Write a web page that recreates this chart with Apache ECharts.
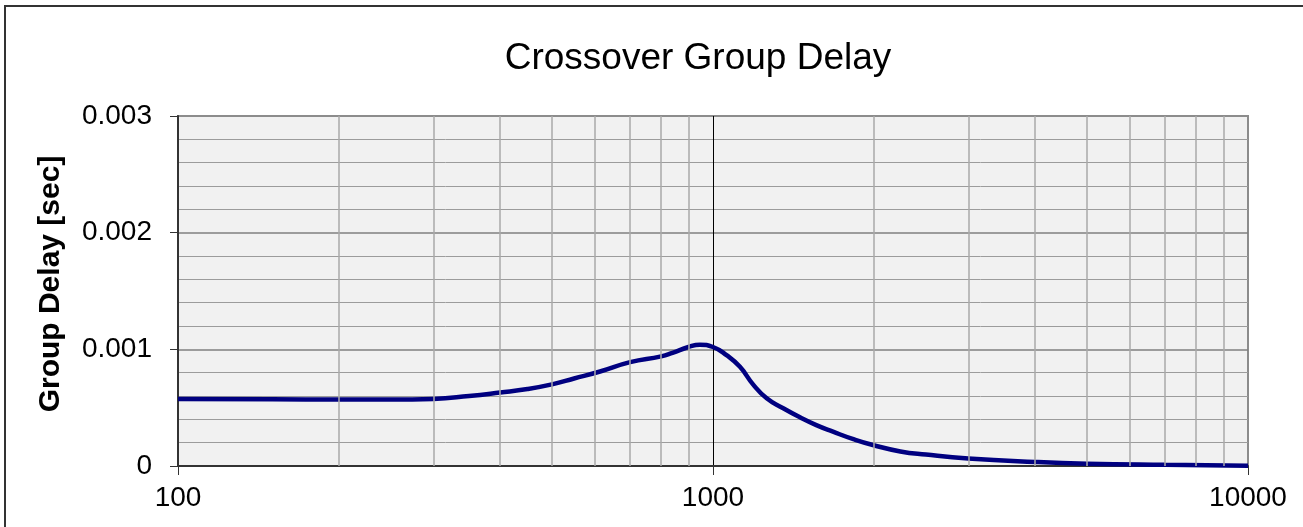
<!DOCTYPE html>
<html>
<head>
<meta charset="utf-8">
<title>Crossover Group Delay</title>
<script src="https://cdn.jsdelivr.net/npm/echarts@6/dist/echarts.min.js"></script>
<style>
  html, body { margin: 0; padding: 0; background: #fff; }
  #chart { width: 1303px; height: 527px; }
</style>
</head>
<body>
<div id="chart"></div>
<script>
  // frequency [Hz] and group delay [sec]
  var freq = [100, 150, 200, 250, 300, 350, 400, 450, 500, 550, 615, 700, 800, 840, 900, 945, 1000,
    1060, 1123, 1188, 1260, 1350, 1454, 1560, 1676, 1830, 1990, 2240, 2500, 3000, 4000, 5000, 7000, 10000]
  var delay = [0.000575, 0.000572, 0.00057, 0.00057, 0.000575, 0.0006, 0.00063, 0.00066, 0.0007, 0.00075,
    0.00081, 0.00089, 0.00094, 0.00097, 0.00102, 0.00104, 0.00102,
    0.00095, 0.00085, 0.00070, 0.00058, 0.000497, 0.000417, 0.00035, 0.000294, 0.00023, 0.00018,
    0.000125, 0.000098, 0.000065, 0.000035, 0.00002, 0.00001, 0.000003]
  // minor vertical grid lines on the log axis
  var minorFreq = [200, 300, 400, 500, 600, 700, 800, 900, 2000, 3000, 4000, 5000, 6000, 7000, 8000, 9000]
  var yTicks = [0, 0.001, 0.002, 0.003]

  var font = 'Arial, "Liberation Sans", sans-serif'

  var points = []
  for (var i = 0; i < freq.length; i++) {
    points.push([freq[i], delay[i]])
  }
  var gridLines = []
  for (var j = 0; j < minorFreq.length; j++) {
    gridLines.push({xAxis: minorFreq[j]})
  }

  var myChart = echarts.init(document.getElementById('chart'))
  var option = {
    animation: false,
    backgroundColor: '#fff',
    title: {
      text: 'Crossover Group Delay',
      left: 693,
      top: 35,
      textAlign: 'center',
      textStyle: {fontFamily: font, fontSize: 37, fontWeight: 'normal', color: '#000'}
    },
    graphic: [{
      type: 'rect',
      silent: true,
      shape: {x: 5, y: 6, width: 1400, height: 600},
      style: {fill: 'none', stroke: '#333', lineWidth: 2}
    }],
    grid: {
      left: 178,
      top: 116,
      width: 1070,
      height: 350,
      show: true,
      backgroundColor: '#f1f1f1',
      borderColor: '#8c8c8c',
      borderWidth: 2
    },
    xAxis: {
      type: 'log',
      logBase: 10,
      min: 100,
      max: 10000,
      axisLine: {show: true, onZero: false, lineStyle: {color: '#333', width: 2}},
      axisTick: {show: true, length: 9, lineStyle: {color: '#333', width: 1}},
      axisLabel: {
        fontFamily: font, fontSize: 28, color: '#000', margin: 18,
        formatter: function (v) { return String(v) }
      },
      splitLine: {show: true, showMinLine: false, showMaxLine: false, lineStyle: {color: '#000', width: 1}}
    },
    yAxis: {
      type: 'value',
      min: yTicks[0],
      max: yTicks[yTicks.length - 1],
      interval: 0.001,
      name: 'Group Delay [sec]',
      nameLocation: 'middle',
      nameRotate: 90,
      nameGap: 112,
      nameTextStyle: {fontFamily: font, fontSize: 30, fontWeight: 'bold', color: '#000', padding: [0, 0, 0, 14]},
      axisLine: {show: true, lineStyle: {color: '#333', width: 2}},
      axisTick: {show: true, length: 8, lineStyle: {color: '#333', width: 1}},
      axisLabel: {
        fontFamily: font, fontSize: 28, color: '#000', margin: 26,
        formatter: function (v) { return v === 0 ? '0' : v.toFixed(3) }
      },
      splitLine: {show: true, showMinLine: false, showMaxLine: false, lineStyle: {color: '#7f7f7f', width: 1.5}},
      minorTick: {show: false, splitNumber: 5},
      minorSplitLine: {show: true, lineStyle: {color: '#9c9c9c', width: 1}}
    },
    series: [{
      name: 'grid',
      type: 'line',
      data: [],
      z: 1,
      silent: true,
      markLine: {
        silent: true,
        symbol: 'none',
        label: {show: false},
        lineStyle: {color: '#a9a9a9', width: 1.5, type: 'solid'},
        data: gridLines
      }
    }, {
      name: 'Group Delay',
      type: 'line',
      data: points,
      z: 3,
      smooth: 0.5,
      showSymbol: false,
      lineStyle: {color: '#000080', width: 4.5}
    }]
  }
  myChart.setOption(option, true)
</script>
</body>
</html>
